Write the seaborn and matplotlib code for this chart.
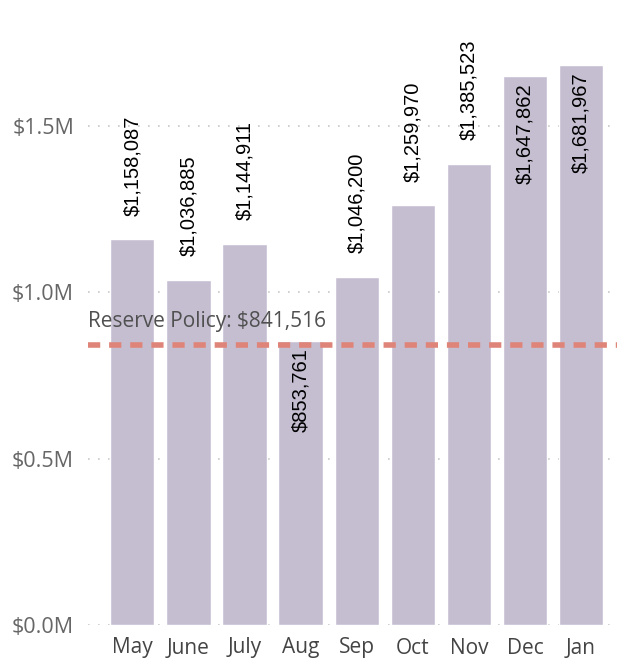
import matplotlib
matplotlib.use("Agg")
import matplotlib.pyplot as plt
import seaborn as sns
import pandas as pd

# Monthly balances
months = ["May", "June", "July", "Aug", "Sep", "Oct", "Nov", "Dec", "Jan"]
balances = [1158087, 1036885, 1144911, 853761, 1046200, 1259970, 1385523, 1647862, 1681967]
reserve_policy = 841516
y_ticks = [0, 500000, 1000000, 1500000]
y_tick_labels = ["$0.0M", "$0.5M", "$1.0M", "$1.5M"]

df = pd.DataFrame({"month": months, "balance": balances})

sns.set_style("white")
plt.rcParams["font.family"] = ["Open Sans", "DejaVu Sans"]

fig = plt.figure(figsize=(6.17, 6.61), dpi=100)
ax = fig.add_axes([88 / 617, 36 / 661, 529 / 617, 625 / 661])

sns.barplot(data=df, x="month", y="balance", color="#C5BED1", saturation=1,
            width=0.79, ax=ax, zorder=2)

ax.set_xlim(-0.79, 8.64)
ax.set_ylim(0, 1877000)
ax.set_yticks(y_ticks)
ax.set_yticklabels(y_tick_labels)
ax.yaxis.grid(True, linestyle=(0, (1, 5)), color="#C8C8C8", linewidth=1.2, zorder=0)
ax.set_xlabel("")
ax.set_ylabel("")
for s in ax.spines.values():
    s.set_visible(False)
ax.tick_params(axis="y", length=0, pad=10, labelsize=15.5, labelcolor="#666666")
ax.tick_params(axis="x", length=0, pad=9, labelsize=15, labelcolor="#444444")

# reserve policy line
ax.axhline(reserve_policy, color="#DF8478", linestyle=(0, (2.2, 1.6)), linewidth=4, zorder=3)
ax.text(-0.79, reserve_policy + 70000, f"Reserve Policy: ${reserve_policy:,}",
        fontsize=15, color="#505050", va="center", ha="left", zorder=4)

# data labels
inside = {"Aug", "Dec", "Jan"}
for i, (m, v) in enumerate(zip(months, balances)):
    if m in inside:
        ax.annotate(f"${v:,}", (i, v), xytext=(0, -5), textcoords="offset points",
                    rotation=90, ha="center", va="top", fontsize=14.5,
                    family=["Liberation Sans"], color="black", zorder=5)
    else:
        ax.annotate(f"${v:,}", (i, v), xytext=(0, 17), textcoords="offset points",
                    rotation=90, ha="center", va="bottom", fontsize=14.5,
                    family=["Liberation Sans"], color="black", zorder=5)

fig.savefig("out.png", dpi=100)
